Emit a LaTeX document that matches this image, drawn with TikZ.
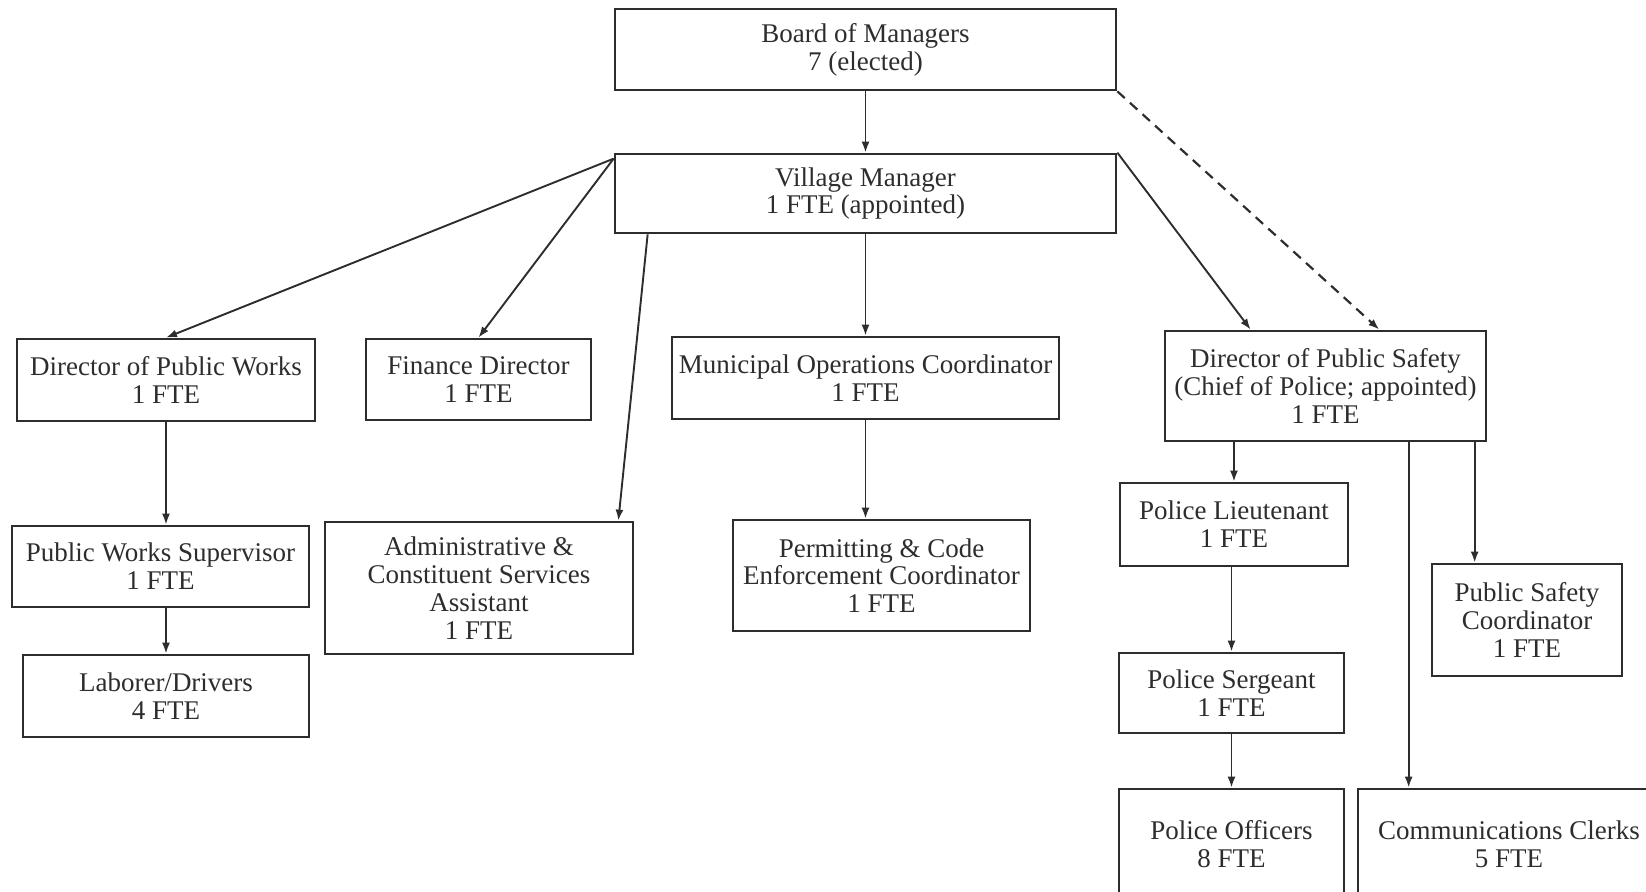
\documentclass[tikz,border=0pt]{standalone}
\usepackage{fontspec}
\setmainfont{Liberation Serif}
\usepackage{xcolor}
\usepackage{tikz}
\definecolor{inkgray}{RGB}{45, 45, 45}
\usetikzlibrary{arrows.meta, calc}

\begin{document}
\begin{tikzpicture}[
    x=0.5pt, y=-0.5pt,
    post/.style={rectangle, draw=inkgray, line width=1.35pt, align=center, inner sep=2pt, text=inkgray, font=\fontsize{13.5}{13.9}\selectfont},
    arrow/.style={-{Latex[length=5.5pt, width=4pt]}, line width=0.95pt, draw=inkgray}
]
    \clip (0,0) rectangle (1646,892);

    % Top
    \node[post, minimum width=250.5pt, minimum height=40.5pt] (board) at (865.5,49.5) {Board of Managers\\7 (elected)};
    \node[post, minimum width=250.5pt, minimum height=39.5pt] (vm) at (865.5,193.5) {Village Manager\\1 FTE (appointed)};

    % Second row
    \node[post, minimum width=149pt, minimum height=41pt] (dpw) at (166,380) {Director of Public Works\\1 FTE};
    \node[post, minimum width=112.5pt, minimum height=40.5pt] (fin) at (478.5,379.5) {Finance Director\\1 FTE};
    \node[post, minimum width=193.5pt, minimum height=41pt] (moc) at (865.5,378) {Municipal Operations Coordinator\\1 FTE};
    \node[post, minimum width=160.5pt, minimum height=55pt] (dps) at (1325.5,386) {Director of Public Safety\\(Chief of Police; appointed)\\1 FTE};

    % Public works
    \node[post, minimum width=148.5pt, minimum height=40.5pt] (pws) at (160.5,566.5) {Public Works Supervisor\\1 FTE};
    \node[post, minimum width=143pt, minimum height=41pt] (lab) at (166,696) {Laborer/Drivers\\4 FTE};

    % Admin and permits
    \node[post, minimum width=154pt, minimum height=66pt] (admin) at (479,588) {Administrative \&\\Constituent Services\\Assistant\\1 FTE};
    \node[post, minimum width=148.5pt, minimum height=55.5pt] (pcec) at (881.5,575.5) {Permitting \& Code\\Enforcement Coordinator\\1 FTE};

    % Public safety
    \node[post, minimum width=114pt, minimum height=41.5pt] (lt) at (1234,524.5) {Police Lieutenant\\1 FTE};
    \node[post, minimum width=95pt, minimum height=56pt] (psc) at (1527,620) {Public Safety\\Coordinator\\1 FTE};
    \node[post, minimum width=112.5pt, minimum height=40pt] (sgt) at (1231.5,693) {Police Sergeant\\1 FTE};
    \node[post, minimum width=112.5pt, minimum height=55.5pt] (off) at (1231.5,844.5) {Police Officers\\8 FTE};
    \node[post, minimum width=151pt, minimum height=55.5pt] (cc) at (1509,844.5) {Communications Clerks\\5 FTE};

    \coordinate (ccin) at ($(cc.north west)+(52,0)$);
    \coordinate (pscin) at ($(psc.north west)+(44,0)$);

    \draw[arrow] (board.south) -- (vm.north);
    \draw[arrow, dashed, line width=1.1pt, dash pattern=on 5pt off 3.5pt] (board.south east) -- ([xshift=-54pt]dps.north east);

    \draw[arrow] ([yshift=-3pt]vm.north west) -- (dpw.north);
    \draw[arrow] ([yshift=-3pt]vm.north west) -- (fin.north);
    \draw[arrow] ([xshift=17pt]vm.south west) -- ([xshift=-8pt]admin.north east);
    \draw[arrow] (vm.south) -- (moc.north);
    \draw[arrow] (vm.north east) -- ([xshift=43.5pt]dps.north west);

    \draw[arrow] (dpw.south) -- (dpw.south |- pws.north);
    \draw[arrow] (pws.south -| lab.north) -- (lab.north);
    \draw[arrow] (moc.south) -- (moc.south |- pcec.north);

    \draw[arrow] (dps.south -| lt.north) -- (lt.north);
    \draw[arrow] (ccin |- dps.south) -- (ccin);
    \draw[arrow] (pscin |- dps.south) -- (pscin);
    \draw[arrow] (lt.south -| sgt.north) -- (sgt.north);
    \draw[arrow] (sgt.south) -- (sgt.south |- off.north);

\end{tikzpicture}
\end{document}
